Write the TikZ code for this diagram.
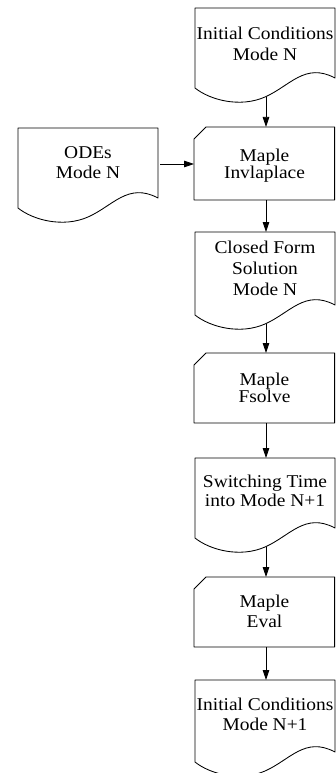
\documentclass[tikz,border=0pt]{standalone}
\usepackage{fontspec}
\setmainfont{Liberation Serif}[FakeStretch=1.08]
\usetikzlibrary{arrows.meta}
\newcommand{\mytxt}[2]{\fontsize{18}{#1}\selectfont\begin{tabular}[t]{@{}c@{}}#2\end{tabular}}
\tikzset{
  outline/.style={draw=black, line width=0.85pt, line join=round},
  arr/.style={draw=black, line width=0.75pt, -{Triangle[length=10pt,width=6.5pt]}},
  label/.style={anchor=base, inner sep=0pt}
}
% document shape: left x, top y, bottom-left y
\newcommand{\docshape}[3]{%
  \draw[outline] (#1,#2) -- (#1+140,#2) -- (#1+140,#3-10)
    .. controls (#1+110,#3-26) and (#1+95,#3-2) .. (#1+70,#3+9)
    .. controls (#1+45,#3+20) and (#1+15,#3+12) .. (#1,#3) -- cycle;}
% card shape: left x, top y, bottom y
\newcommand{\cardshape}[3]{%
  \draw[outline] (#1+12,#2) -- (334.6,#2) -- (334.6,#3) -- (#1,#3) -- (#1,#2+12) -- cycle;}
\begin{document}
\begin{tikzpicture}[x=1pt,y=-1pt]
\useasboundingbox (0,0) rectangle (336,773);

% shapes
\docshape{195}{8}{88}
\docshape{18}{128}{208}
\cardshape{194}{127}{200}
\docshape{195}{232}{315}
\cardshape{194}{353}{423}
\docshape{195}{458}{538}
\cardshape{194}{577}{647}
\docshape{195}{680}{762}

% texts
\node[label] (ic1) at (265,40) {\mytxt{21}{Initial Conditions\\Mode N}};
\node[label] (odes) at (88,158) {\mytxt{20}{ODEs\\Mode N}};
\node[label] (inv) at (264.5,161) {\mytxt{16.5}{Maple\\Invlaplace}};
\node[label] (cfs) at (265,253) {\mytxt{21}{Closed Form\\Solution\\Mode N}};
\node[label] (fsolve) at (264.5,385) {\mytxt{17}{Maple\\Fsolve}};
\node[label] (sw) at (265,487) {\mytxt{19.5}{Switching Time\\into Mode N+1}};
\node[label] (eval) at (264.5,607) {\mytxt{20}{Maple\\Eval}};
\node[label] (ic2) at (265,710) {\mytxt{20}{Initial Conditions\\Mode N+1}};

% connector end points
\coordinate (ic1b) at (266,97);
\coordinate (invt) at (266,127);
\coordinate (odesr) at (160,164);
\coordinate (invl) at (194,164);
\coordinate (invb) at (266,200);
\coordinate (cfst) at (266,232);
\coordinate (cfsb) at (266,324);
\coordinate (fsolvet) at (266,353);
\coordinate (fsolveb) at (266,423);
\coordinate (swt) at (266,458);
\coordinate (swb) at (266,547);
\coordinate (evalt) at (266,577);
\coordinate (evalb) at (266,647);
\coordinate (ic2t) at (266,680);

% connectors
\draw[arr] (ic1b) -- (invt);
\draw[arr] (odesr) -- (invl);
\draw[arr] (invb) -- (cfst);
\draw[arr] (cfsb) -- (fsolvet);
\draw[arr] (fsolveb) -- (swt);
\draw[arr] (swb) -- (evalt);
\draw[arr] (evalb) -- (ic2t);
\end{tikzpicture}
\end{document}
